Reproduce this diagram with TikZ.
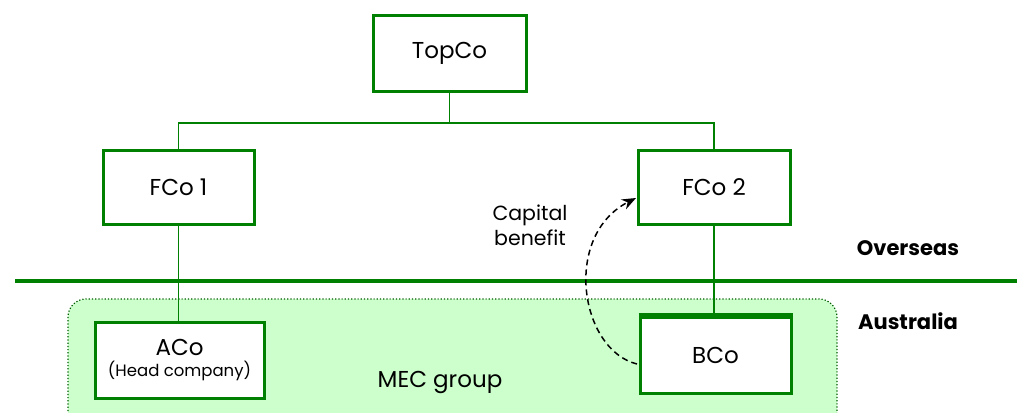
\documentclass[tikz,border=0pt]{standalone}
\usepackage{fontspec}
\setmainfont{Poppins}
\usetikzlibrary{arrows.meta}
\definecolor{boxgreen}{RGB}{0,128,0}
\definecolor{regiongreen}{RGB}{204,255,204}
\tikzset{
  cobox/.style={draw=boxgreen, line width=3pt, fill=white, minimum width=#1, inner sep=0pt, font=\fontsize{23}{26}\selectfont, align=center},
  link/.style={draw=boxgreen, line width=1.6pt},
  zone/.style={font=\bfseries\fontsize{21}{24}\selectfont}
}
\begin{document}
\begin{tikzpicture}[x=1pt,y=-1pt]
\useasboundingbox (0,0) rectangle (1019,412);
% region
\draw[fill=regiongreen, draw=boxgreen!70!black, dotted, line width=1.2pt, rounded corners=18pt] (68,299) rectangle (837,440);
% border line
\coordinate (bl) at (15,281);
\coordinate (br) at (1017,281);
\draw[draw=boxgreen, line width=4pt] (bl) -- (br);
% boxes
\node[cobox=153pt, minimum height=75pt] (top) at (449.5,53.5) {TopCo};
\node[cobox=151pt, minimum height=74pt] (f1) at (178.5,187) {FCo 1};
\node[cobox=152pt, minimum height=74pt] (f2) at (714,187) {FCo 2};
\node[cobox=169pt, minimum height=76pt] (a) at (179.5,360) {\raisebox{-5pt}{\shortstack{ACo\\[2pt]{\fontsize{16.5}{18}\selectfont (Head company)}}}};
\node[cobox=151pt, minimum height=76pt] (b) at (715.5,355) {BCo};
\draw[draw=boxgreen, line width=4pt] ([yshift=1pt]b.north west) -- ([yshift=1pt]b.north east);
% connectors
\coordinate (j) at (449.5,123);
\draw[link] (top.south) -- (j);
\draw[link] (f1.north) |- (j) -| (f2.north);
\draw[link] (f1.south) -- (a.north -| f1.south);
\draw[link] (f2.south) -- (b.north -| f2.south);
% labels
\node[zone] (ov) at (908,248) {Overseas};
\node[zone] (au) at (908,321) {Australia};
\node[font=\fontsize{23}{26}\selectfont] (mec) at (440,382) {MEC group};
\node[font=\fontsize{20.5}{25}\selectfont, align=center] (cb) at (530,225) {Capital\\benefit};
% curve
\coordinate (cs) at (637,364);
\coordinate (ce) at (636,198);
\draw[dash pattern=on 6pt off 4pt, line width=1.5pt, -{Stealth[length=14pt,width=11pt]}] (cs) .. controls (580,350) and (562,236) .. (ce);
\end{tikzpicture}
\end{document}
